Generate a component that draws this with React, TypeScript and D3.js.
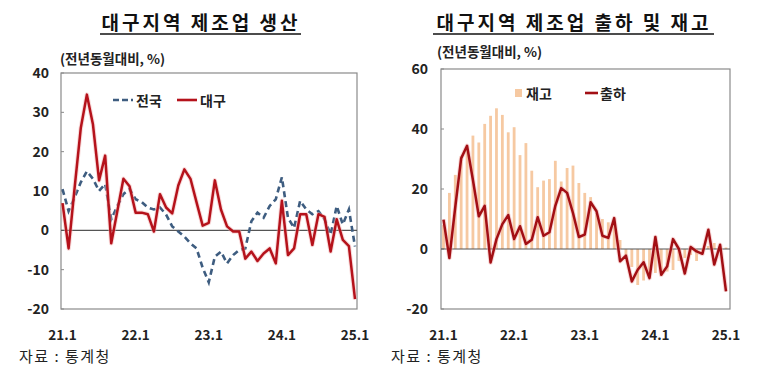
import React from "react";
import * as d3 from "d3";

const xTickLabels = ["21.1", "22.1", "23.1", "24.1", "25.1"];
const xTickIdx = [0, 12, 24, 36, 48];

// Left panel: 제조업 생산 (전년동월대비, %) 21.1 ~ 25.1
const daegu = [
  6.9, -4.6, 11, 26, 34.5, 26.9, 12.7, 19, -3.3, 4.9, 13.1, 11.2,
  4.5, 4.5, 4.1, -0.3, 9.2, 5.8, 4.3, 11.4, 15.5, 13.1, 7.1, 1.2,
  1.9, 12.7, 5.3, 1, -0.3, -0.3, -7.2, -5.4, -7.8, -5.9, -4.6, -8.4,
  7.5, -6.3, -4.6, 4.1, 4.1, -3.7, 4.1, 3.4, -5.4, 2.8, -2.4, -4, -17.5,
];
const national = [
  10.5, 4.9, 8.4, 12.2, 15, 13.1, 10, 11.8, 2.8, 6.2, 9.2, 10.5,
  7.9, 7.2, 5.8, 5.3, 5.8, 4, 1, -0.3, -1.6, -3.3, -4.6, -9.5,
  -13.2, -6.7, -5.4, -8.4, -6.3, -5, -4.6, 2.3, 4.5, 3.2, 6.2, 7.9,
  13.5, 3.2, 0.6, 7.5, 5.3, 4.1, 4.9, 2.8, -1.1, 6.2, 1.5, 5.3, -4.1,
];
const leftYTicks = [40, 30, 20, 10, 0, -10, -20];

// Right panel: 출하 및 재고
const inventory = [
  8, 18.7, 24.7, 31, 33, 37.8, 35.5, 41.7, 44.4, 46.9, 44.7, 38.9,
  40.6, 31.3, 35.3, 26.1, 20.6, 22.8, 23.3, 29.4, 22.5, 27, 27.8, 22,
  18.7, 17.3, 12, 10, 8.9, 8, 3, -2, -6, -12, -10.5, -9.5,
  -8, -9, -7.5, -7, -4, -3, -2, -4, -1.5, 1, 2, 1, 0.5,
];
const shipment = [
  9.8, -3, 14, 30.2, 34.4, 23, 10.9, 14.4, -4.5, 3.3, 8.3, 11.3,
  3.3, 7.6, 1.7, 3.1, 10.6, 4.4, 5.6, 14.4, 20.3, 18.7, 12, 4,
  4.8, 15.6, 12.6, 4.4, 3.7, 10.3, -4.1, -2.2, -10.8, -6.9, -4.4, -9.7,
  4, -8.6, -5.8, 3.3, 0, -8.2, 0.7, -0.8, -1.6, 6.4, -5.2, 1.4, -14.1,
];
const rightYTicks = [60, 40, 20, 0, -20];

const FONT = "'Noto Sans CJK KR', 'Noto Sans', sans-serif";

export default function App() {
  // Left panel geometry
  const L = { x0: 61, x1: 357, y0: 73, y1: 309 };
  const lx = d3.scaleLinear().domain([0, 48]).range([62.5, 355]);
  const ly = d3.scaleLinear().domain([-20, 40]).range([L.y1, L.y0]);
  const lineL = d3
    .line<number>()
    .x((_, i) => lx(i))
    .y((d) => ly(d));

  // Right panel geometry
  const R = { x0: 441, x1: 730, y0: 69, y1: 309 };
  const rx = d3.scaleLinear().domain([0, 48]).range([443.5, 726]);
  const ry = d3.scaleLinear().domain([-20, 60]).range([R.y1, R.y0]);
  const lineR = d3
    .line<number>()
    .x((_, i) => rx(i))
    .y((d) => ry(d));

  const red = "#b5121b";
  const redDark = "#a20f14";
  const blue = "#3e5d80";
  const barColor = "#f6c9a2";

  return (
    <svg width={759} height={376} style={{ position: "absolute", left: 0, top: 0, background: "#fff" }}>
      <rect x={0} y={0} width={759} height={376} fill="#fff" />

      {/* Titles */}
      <text x={201} y={30} textAnchor="middle" fontFamily={FONT} fontWeight={700} fontSize={19} letterSpacing={3} fill="#111">
        대구지역 제조업 생산
      </text>
      <line x1={100} x2={301} y1={34} y2={34} stroke="#111" strokeWidth={1.3} />
      <text x={574} y={30} textAnchor="middle" fontFamily={FONT} fontWeight={700} fontSize={19} letterSpacing={3} fill="#111">
        대구지역 제조업 출하 및 재고
      </text>
      <line x1={433} x2={714} y1={34} y2={34} stroke="#111" strokeWidth={1.3} />

      {/* Subtitles */}
      <text x={60} y={64} fontFamily={FONT} fontWeight={700} fontSize={13.5} fill="#222">
        (전년동월대비, %)
      </text>
      <text x={437} y={57} fontFamily={FONT} fontWeight={700} fontSize={13.5} fill="#222">
        (전년동월대비, %)
      </text>

      {/* ===== Left panel ===== */}
      <rect x={L.x0} y={L.y0} width={L.x1 - L.x0} height={L.y1 - L.y0} fill="none" stroke="#8a8a8a" strokeWidth={1.2} />
      {leftYTicks.map((t) => (
        <g key={"ly" + t}>
          <line x1={L.x0} x2={L.x0 + 3} y1={ly(t)} y2={ly(t)} stroke="#8a8a8a" />
          <text x={49} y={ly(t) + 5} textAnchor="end" fontFamily={FONT} fontWeight={700} fontSize={14} fill="#222">
            {t}
          </text>
        </g>
      ))}
      <line x1={L.x0} x2={L.x1} y1={ly(0)} y2={ly(0)} stroke="#555" strokeWidth={1.1} />
      {xTickIdx.map((idx, k) => (
        <text key={"lx" + k} x={lx(idx)} y={340} textAnchor="middle" fontFamily={FONT} fontWeight={700} fontSize={13.5} fill="#222">
          {xTickLabels[k]}
        </text>
      ))}
      <path d={lineL(national) || ""} fill="none" stroke={blue} strokeWidth={2.6} strokeDasharray="6,4" />
      <path d={lineL(daegu) || ""} fill="none" stroke="#f0b0b0" strokeWidth={4.5} strokeOpacity={0.45} strokeLinejoin="round" />
      <path d={lineL(daegu) || ""} fill="none" stroke={red} strokeWidth={2.5} strokeLinejoin="round" />

      {/* Left legend */}
      <line x1={113} x2={133} y1={100} y2={100} stroke={blue} strokeWidth={2.6} strokeDasharray="6,3" />
      <text x={136} y={105.5} fontFamily={FONT} fontWeight={700} fontSize={14} fill="#222">전국</text>
      <line x1={177} x2={197} y1={100} y2={100} stroke={red} strokeWidth={2.6} />
      <text x={200} y={105.5} fontFamily={FONT} fontWeight={700} fontSize={14} fill="#222">대구</text>

      {/* ===== Right panel ===== */}
      <rect x={R.x0} y={R.y0} width={R.x1 - R.x0} height={R.y1 - R.y0} fill="none" stroke="#8a8a8a" strokeWidth={1.2} />
      {inventory.map((v, i) => (
        <rect
          key={"b" + i}
          x={rx(i) - 1.4}
          width={2.8}
          y={Math.min(ry(v), ry(0))}
          height={Math.abs(ry(v) - ry(0))}
          fill={barColor}
        />
      ))}
      {rightYTicks.map((t) => (
        <g key={"ry" + t}>
          <line x1={R.x0} x2={R.x0 + 3} y1={ry(t)} y2={ry(t)} stroke="#8a8a8a" />
          <text x={428} y={ry(t) + 5} textAnchor="end" fontFamily={FONT} fontWeight={700} fontSize={14} fill="#222">
            {t}
          </text>
        </g>
      ))}
      <line x1={R.x0} x2={R.x1} y1={ry(0)} y2={ry(0)} stroke="#555" strokeWidth={1.1} />
      {xTickIdx.map((idx, k) => (
        <text key={"rx" + k} x={rx(idx)} y={340} textAnchor="middle" fontFamily={FONT} fontWeight={700} fontSize={13.5} fill="#222">
          {xTickLabels[k]}
        </text>
      ))}
      <path d={lineR(shipment) || ""} fill="none" stroke="#f0a8a8" strokeWidth={4.5} strokeOpacity={0.45} strokeLinejoin="round" />
      <path d={lineR(shipment) || ""} fill="none" stroke={redDark} strokeWidth={2.5} strokeLinejoin="round" />

      {/* Right legend */}
      <rect x={515} y={89} width={7} height={8} fill={barColor} />
      <text x={526} y={98.5} fontFamily={FONT} fontWeight={700} fontSize={14} fill="#222">재고</text>
      <line x1={585} x2={598} y1={93} y2={93} stroke={redDark} strokeWidth={2.6} />
      <text x={600} y={98.5} fontFamily={FONT} fontWeight={700} fontSize={14} fill="#222">출하</text>

      {/* Footers */}
      <text x={19} y={362} fontFamily={FONT} fontSize={15} letterSpacing={1.5} fill="#222">자료 : 통계청</text>
      <text x={391} y={362} fontFamily={FONT} fontSize={15} letterSpacing={1.5} fill="#222">자료 : 통계청</text>
    </svg>
  );
}
